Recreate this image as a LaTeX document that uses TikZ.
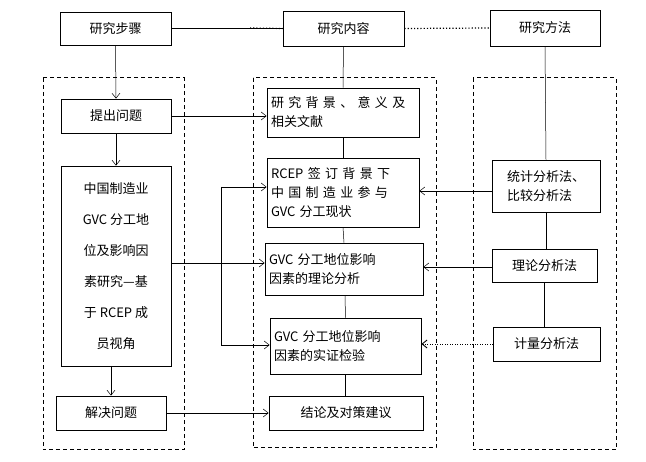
\documentclass[tikz,border=0pt]{standalone}
\usepackage{fontspec}
\setmainfont{Liberation Mono}
\newfontfamily\cjk{Noto Sans CJK SC}
\usetikzlibrary{arrows.meta}
\begin{document}
\begin{tikzpicture}[x=1pt,y=-1pt,
  box/.style={draw,line width=0.8pt,minimum width=#1,inner sep=2pt,font=\cjk\fontsize{13}{19}\selectfont},
  box/.default=110pt,
  dbox/.style={draw,dashed,line width=1pt,dash pattern=on 4pt off 3pt},
  arr/.style={-{Straight Barb[length=5pt,width=8pt]},line width=0.5pt},
  ln/.style={line width=0.5pt}]
\useasboundingbox (0,0) rectangle (646,462);
\draw[dbox] (43,78) rectangle (184,450);
\draw[dbox] (253,78) rectangle (436,448);
\draw[dbox] (473,78) rectangle (616,450);
% top headers
\node[box,minimum width=111pt,minimum height=33pt] (s) at (115.5,28.5) {研究步骤};
\node[box,minimum width=121pt,minimum height=35pt] (c) at (343.5,28.5) {研究内容};
\node[box,minimum width=110pt,minimum height=36pt] (m) at (545,28) {研究方法};
% left column
\node[box,minimum width=110pt,minimum height=34pt] (p) at (116,116) {提出问题};
\node[box,minimum width=110pt,minimum height=200pt,align=center,font=\cjk\fontsize{13}{31}\selectfont] (big) at (116,266)
 {中国制造业\\GVC 分工地\\位及影响因\\素研究—基\\于 RCEP 成\\员视角};
\node[box,minimum width=110pt,minimum height=34pt] (r) at (111,413) {解决问题};
% middle column
\node[box,minimum width=152pt,minimum height=49pt,align=left,text width=144pt] (c1) at (343,112.5) {研 究 背 景 、 意 义 及\\相关文献};
\node[box,minimum width=152pt,minimum height=69pt,align=left,text width=144pt] (c2) at (343,192.5) {RCEP 签 订 背 景 下\\中 国 制 造 业 参 与\\GVC 分工现状};
\node[box,minimum width=158pt,minimum height=52pt,align=left,text width=150pt] (c3) at (344,269) {GVC 分工地位影响\\因素的理论分析};
\node[box,minimum width=151pt,minimum height=56pt,align=left,text width=143pt] (c4) at (345.5,346) {GVC 分工地位影响\\因素的实证检验};
\node[box,minimum width=154pt,minimum height=34pt] (c5) at (346,413) {结论及对策建议};
% right column
\node[box,minimum width=108pt,minimum height=52pt,align=left] (m1) at (546,186) {统计分析法、\\比较分析法};
\node[box,minimum width=105pt,minimum height=33pt] (m2) at (544.5,265.5) {理论分析法};
\node[box,minimum width=107pt,minimum height=34pt] (m3) at (546.5,344) {计量分析法};
% top links
\draw[ln] (s.east) -- (c.west);
\draw[line width=1.2pt,dotted] (250,28) -- (c.west);
\draw[line width=1.2pt,dotted] (c.east) -- (m.west);
% left arrows
\draw[arr] (s.south) -- (p.north);
\draw[arr] (p.south) -- (big.north);
\draw[arr] (111,366) -- (r.north);
\draw[arr] (p.east) -- (c1.west |- p.east);
\draw[arr] (big.east |- 0,263) -- (c3.west |- 0,263);
\draw[arr] (r.east) -- (c5.west |- r.east);
\coordinate (v1) at (221,187);
\coordinate (v2) at (221,345);
\draw[ln] (v1) -- (v2);
\draw[arr] (v1) -- (c2.west |- v1);
\draw[arr] (v2) -- (c4.west |- v2);
% middle chain
\draw[ln] (c.south) -- (c1.north);
\draw[ln] (c1.south) -- (c2.north);
\draw[ln] (c2.south) -- (c3.north);
\draw[ln] (c3.south -| 345,0) -- (c4.north);
\draw[ln] (c4.south) -- (c4.south |- c5.north);
% right
\draw[ln] (m.south) -- (m1.north);
\draw[ln] (m1.south) -- (m1.south |- m2.north);
\draw[ln] (m2.south) -- (m2.south |- m3.north);
\draw[arr] (m1.west |- 0,191) -- (c2.east |- 0,191);
\draw[arr] (m2.west |- 0,267) -- (c3.east |- 0,267);
\draw[arr,dotted,line width=0.9pt] (m3.west) -- (c4.east |- m3.west);
\end{tikzpicture}
\end{document}
